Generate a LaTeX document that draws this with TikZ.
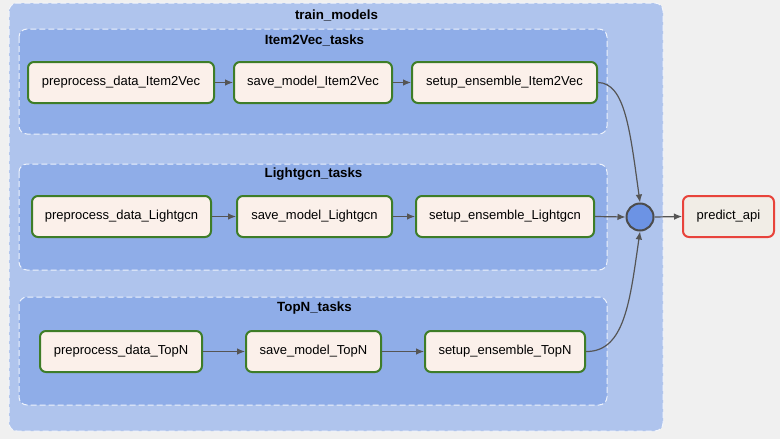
\documentclass[tikz,border=0pt]{standalone}
\usepackage{fontspec}
\setmainfont{Liberation Sans}
\usetikzlibrary{arrows.meta}
\definecolor{pagebg}{HTML}{F0F0F0}
\definecolor{outerblue}{HTML}{AFC4ED}
\definecolor{innerblue}{HTML}{8FADE8}
\definecolor{taskfill}{HTML}{FBF0EA}
\definecolor{taskline}{HTML}{3E7D28}
\definecolor{apifill}{HTML}{F1EDE6}
\definecolor{apiline}{HTML}{E8433B}
\definecolor{joinfill}{HTML}{6C93E4}
\definecolor{edgegray}{HTML}{555555}
\tikzset{
  task/.style={draw=taskline, fill=taskfill, line width=1.5pt, rounded corners=4.5pt,
    minimum height=30.75pt, inner sep=0pt, font=\fontsize{9.75}{12}\selectfont},
  api/.style={task, draw=apiline, fill=apifill},
  joinnode/.style={circle, draw=edgegray!90!black, fill=joinfill, line width=1.5pt, minimum size=20.25pt, inner sep=0pt},
  cluster/.style={fill=#1, draw=white!85!#1, dash pattern=on 4.5pt off 2.25pt, line width=0.75pt, rounded corners=6pt},
  clusterlabel/.style={font=\bfseries\fontsize{10}{12}\selectfont},
  flow/.style={draw=edgegray, line width=0.9pt, -{Latex[length=6pt,width=5pt]}}
}
\begin{document}
\begin{tikzpicture}[x=0.75pt, y=-0.75pt]
    \fill[pagebg] (0,0) rectangle (780,439);
    \useasboundingbox (0,0) rectangle (780,439);
    % clusters
    \path[cluster=outerblue] (9,3) rectangle (663,431);
    \path[cluster=innerblue] (19,29) rectangle (607,134);
    \path[cluster=innerblue] (19,164) rectangle (607,270);
    \path[cluster=innerblue] (19,297) rectangle (607,405);
    \node [clusterlabel] (lbl0) at (336.5,15) {train\_models};
    \node [clusterlabel] (lbl1) at (314.5,40) {Item2Vec\_tasks};
    \node [clusterlabel] (lbl2) at (313.5,174) {Lightgcn\_tasks};
    \node [clusterlabel] (lbl3) at (314.5,308) {TopN\_tasks};
    % Item2Vec
    \node [task, minimum width=139.5pt] (pre1) at (121,82.5) {preprocess\_data\_Item2Vec};
    \node [task, minimum width=118.5pt] (save1) at (313,82.5) {save\_model\_Item2Vec};
    \node [task, minimum width=138.75pt] (setup1) at (504.5,82.5) {setup\_ensemble\_Item2Vec};
    % Lightgcn
    \node [task, minimum width=134.25pt] (pre2) at (121.5,216.5) {preprocess\_data\_Lightgcn};
    \node [task, minimum width=116.25pt] (save2) at (314.5,216.5) {save\_model\_Lightgcn};
    \node [task, minimum width=133.5pt] (setup2) at (505,216.5) {setup\_ensemble\_Lightgcn};
    % TopN
    \node [task, minimum width=121.5pt] (pre3) at (121,351.5) {preprocess\_data\_TopN};
    \node [task, minimum width=101.25pt] (save3) at (313.5,351.5) {save\_model\_TopN};
    \node [task, minimum width=120pt] (setup3) at (505,351.5) {setup\_ensemble\_TopN};
    % join and api
    \node [joinnode] (joined) at (640,217) {};
    \node [api, minimum width=68.25pt] (api) at (728.5,216.5) {predict\_api};
    \draw [flow] (pre1) -- (save1);
    \draw [flow] (save1) -- (setup1);
    \draw [flow] (pre2) -- (save2);
    \draw [flow] (save2) -- (setup2);
    \draw [flow] (pre3) -- (save3);
    \draw [flow] (save3) -- (setup3);
    \draw [flow] (setup1.east) .. controls (625,83) and (630,130) .. (joined.north);
    \draw [flow] (setup2.east) -- (joined.west);
    \draw [flow] (setup3.east) .. controls (625,352) and (630,300) .. (joined.south);
    \draw [flow] (joined.east) -- (api.west);
\end{tikzpicture}
\end{document}
